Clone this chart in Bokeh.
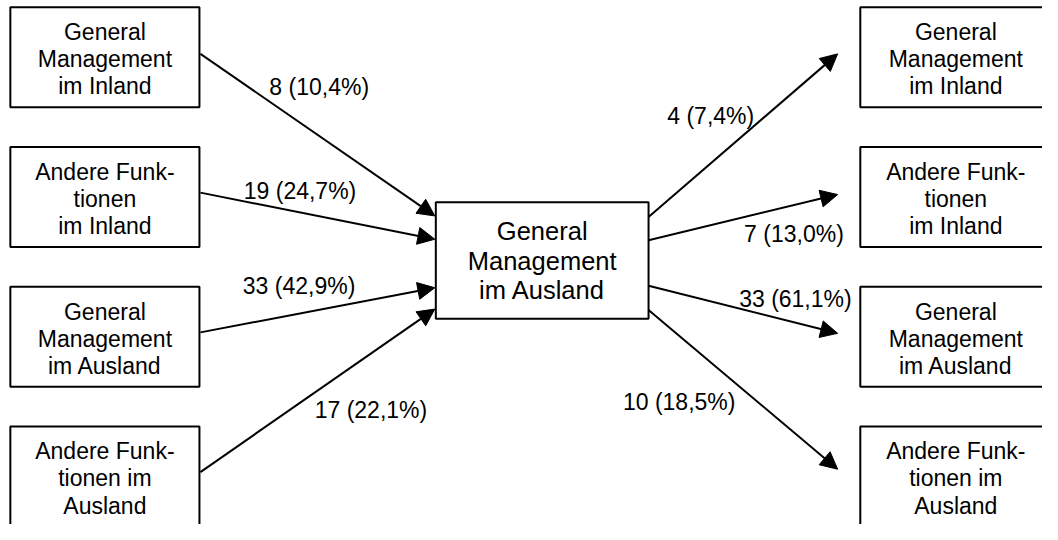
from bokeh.plotting import figure
from bokeh.models import Range1d, Arrow, NormalHead, ColumnDataSource
from bokeh.core.properties import value
from bokeh.embed import file_html
from bokeh.resources import INLINE

# ---- data ----
source_labels = [
    ["General", "Management", "im Inland"],
    ["Andere Funk-", "tionen", "im Inland"],
    ["General", "Management", "im Ausland"],
    ["Andere Funk-", "tionen im", "Ausland"],
]
target_labels = [
    ["General", "Management", "im Inland"],
    ["Andere Funk-", "tionen", "im Inland"],
    ["General", "Management", "im Ausland"],
    ["Andere Funk-", "tionen im", "Ausland"],
]
center_label = ["General", "Management", "im Ausland"]
inflow_counts = [8, 19, 33, 17]
inflow_pct = [10.4, 24.7, 42.9, 22.1]
outflow_counts = [4, 7, 33, 10]
outflow_pct = [7.4, 13.0, 61.1, 18.5]

def fmt(n, p):
    return f"{n} ({p:.1f}%)".replace(".", ",")

# ---- layout (reference pixel coordinates) ----
box_tops = [7, 151, 295, 439]
box_h = 103
left_x0, left_x1 = 10, 202
right_x0, right_x1 = 873, 1067
center_box = dict(left=442, right=658, top=208, bottom=328)

in_start_y = [55, 198, 342, 486]
in_end_y = [222, 246, 296, 318]
out_start_y = [223, 247, 294, 319]
out_end_y = [55, 200, 343, 483]

TEXT_SHIFT = -7
in_label_pos = [(273, 96), (247, 203), (246, 301), (319, 429)]
out_label_pos = [(677, 126), (755, 248), (750, 315), (632, 421)]

FONT = "Liberation Sans"

p = figure(width=1042, height=524, output_backend="svg", toolbar_location=None,
           x_range=Range1d(0, 1058), y_range=Range1d(540, 0),
           x_axis_location=None, y_axis_location=None, min_border=0,
           tools="")
p.grid.visible = False
p.outline_line_color = None
p.background_fill_color = "white"

# boxes
lefts = [left_x0] * 4 + [right_x0] * 4 + [center_box["left"]]
rights = [left_x1] * 4 + [right_x1] * 4 + [center_box["right"]]
tops = box_tops + box_tops + [center_box["top"]]
bottoms = [t + box_h for t in box_tops] * 2 + [center_box["bottom"]]
p.quad(left=lefts, right=rights, top=tops, bottom=bottoms,
       fill_color="white", line_color="black", line_width=2)

# box texts
tx, ty, tt = [], [], []
for i, lines in enumerate(source_labels):
    cy = box_tops[i] + box_h / 2 + 9 + TEXT_SHIFT
    for j, s in enumerate(lines):
        tx.append((left_x0 + left_x1) / 2); ty.append(cy + (j - 1) * 28); tt.append(s)
for i, lines in enumerate(target_labels):
    cy = box_tops[i] + box_h / 2 + 9 + TEXT_SHIFT
    for j, s in enumerate(lines):
        tx.append(970); ty.append(cy + (j - 1) * 28); tt.append(s)
p.text(x=tx, y=ty, text=tt, text_font=value(FONT), text_font_size="23px",
       text_align="center", text_baseline="alphabetic", text_color="black")

cx = (center_box["left"] + center_box["right"]) / 2
ccy = (center_box["top"] + center_box["bottom"]) / 2 + 7 + TEXT_SHIFT
p.text(x=[cx] * 3, y=[ccy + (j - 1) * 30 for j in range(3)], text=center_label,
       text_font=value(FONT), text_font_size="25.5px",
       text_align="center", text_baseline="alphabetic", text_color="black")

# arrows
for i in range(4):
    p.add_layout(Arrow(x_start=203, y_start=in_start_y[i], x_end=441, y_end=in_end_y[i],
                       line_width=2, line_color="black",
                       end=NormalHead(size=17, fill_color="black", line_color="black", line_width=1)))
    p.add_layout(Arrow(x_start=658, y_start=out_start_y[i], x_end=850, y_end=out_end_y[i],
                       line_width=2, line_color="black",
                       end=NormalHead(size=17, fill_color="black", line_color="black", line_width=1)))

# flow labels
lbl_src = ColumnDataSource(dict(
    x=[q[0] for q in in_label_pos] + [q[0] for q in out_label_pos],
    y=[q[1] + TEXT_SHIFT for q in in_label_pos] + [q[1] + TEXT_SHIFT for q in out_label_pos],
    t=[fmt(n, pc) for n, pc in zip(inflow_counts, inflow_pct)] +
      [fmt(n, pc) for n, pc in zip(outflow_counts, outflow_pct)],
))
p.text(x="x", y="y", text="t", source=lbl_src, text_font=value(FONT),
       text_font_size="23px", text_align="left", text_baseline="alphabetic",
       text_color="black")

open("out.html", "w").write(file_html(p, INLINE))
